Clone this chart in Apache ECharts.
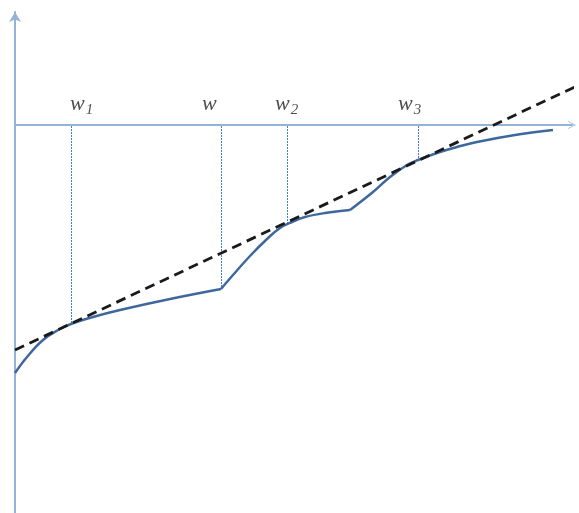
<!DOCTYPE html>
<html>
<head>
<meta charset="utf-8">
<script src="https://cdn.jsdelivr.net/npm/echarts@6/dist/echarts.min.js"></script>
<style>
html,body{margin:0;padding:0;background:#fff;}
#chart{width:579px;height:513px;}
</style>
</head>
<body>
<div id="chart"></div>
<script>
// Piecewise value curve (three segments meeting at kinks)
const segA = [[0,-248],[12,-232],[28,-215],[45,-204],[56,-199],[78,-192],[105,-185],[155,-174],[206,-164]];
const segB = [[206,-164],[218,-150],[235,-131],[252,-114],[265,-103],[277,-97],[290,-92],[310,-88],[335,-85]];
const segC = [[335,-85],[358,-67],[375,-52],[392,-40],[403,-35],[425,-27],[442,-22],[462,-17],[500,-10],[538,-5]];
// Common tangent line (dashed)
const tangent = [[0,-225],[564,40]];
// Marked wealth levels: label, subscript, x position, curve value, label left edge
const markNames = ['w','w','w','w'];
const markSubs = ['1','','2','3'];
const markX = [56,206,272,403];
const markY = [-199,-164,-99,-35];
const labelLeft = [55,187,260,383];

const chart = echarts.init(document.getElementById('chart'));
const axisColor = '#95b3d7';
const curveColor = '#3e689d';

const labelData = labelLeft.map((x,i)=>({value:[x,21], sub:markSubs[i], name:markNames[i]}));
const curveSeries = seg => ({type:'line',data:seg,smooth:0.4,symbol:'none',
  lineStyle:{color:curveColor,width:2.5},z:3});

chart.setOption({
  animation:false,
  grid:{left:15,right:7,top:12,bottom:0},
  xAxis:{type:'value',min:0,max:557,
    axisLine:{onZero:true,lineStyle:{color:axisColor,width:2},
      symbol:['none','path://M0,10 L5,0 L10,10 L9,10 L5,2 L1,10 Z'],symbolSize:[10,8]},
    axisTick:{show:false},axisLabel:{show:false},splitLine:{show:false}},
  yAxis:{type:'value',min:-388,max:113,
    axisLine:{lineStyle:{color:axisColor,width:2},symbol:['none','arrow'],symbolSize:[9,10]},
    axisTick:{show:false},axisLabel:{show:false},splitLine:{show:false}},
  series:[
    {type:'custom',renderItem:function(params,api){
        const i = params.dataIndex;
        const p0 = api.coord([markX[i],0]);
        const p1 = api.coord([markX[i],markY[i]]);
        return {type:'line',shape:{x1:p0[0]+0.5,y1:p0[1]+1,x2:p1[0]+0.5,y2:p1[1]},
          style:{stroke:'#3f7fd0',lineWidth:1,lineDash:[2,1]}};
      },
      data:markX.map((x,i)=>[x,markY[i]]),z:1},
    curveSeries(segA),
    curveSeries(segB),
    curveSeries(segC),
    {type:'line',data:tangent,symbol:'none',clip:false,
      lineStyle:{color:'#1a1a1a',width:2.8,type:[10,6]},z:4},
    {type:'scatter',data:labelData,symbolSize:0,
      label:{show:true,position:'right',distance:0,
        formatter:function(p){return '{i|'+p.data.name+'}'+(p.data.sub?'{s|'+p.data.sub+'}':'');},
        rich:{i:{fontFamily:'Liberation Serif',fontStyle:'italic',fontSize:22,color:'#222'},
              s:{fontFamily:'Liberation Serif',fontStyle:'italic',fontSize:15,color:'#222',padding:[12,0,0,1]}}}}
  ]
});
</script>
</body>
</html>
